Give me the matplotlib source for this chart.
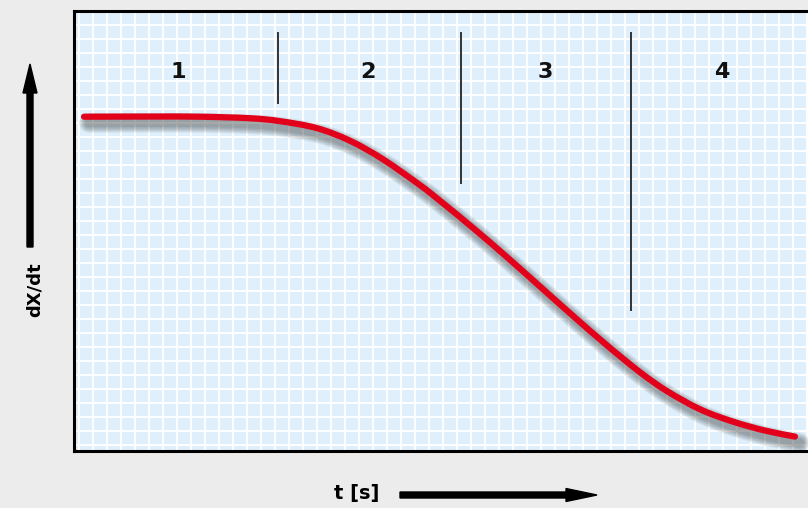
import matplotlib
matplotlib.use("Agg")
import matplotlib.pyplot as plt
import matplotlib.patheffects as pe
from matplotlib.patches import FancyArrow, PathPatch
from matplotlib.path import Path

# ---- data (grid units: one grid cell = 1) ----
t = [0.36, 5.07, 8.64, 12.21, 14.36, 17.0, 19.36, 21.71, 24.36, 25.79, 28.14,
     30.57, 32.93, 35.29, 37.71, 40.07, 42.0, 44.36, 46.71, 49.0, 51.14]
rate = [23.45, 23.46, 23.45, 23.34, 23.13, 22.63, 21.73, 20.41, 18.56, 17.44, 15.51,
        13.42, 11.32, 9.22, 7.12, 5.2, 3.85, 2.55, 1.67, 1.03, 0.6]

phase_labels = ["1", "2", "3", "4"]
phase_label_x = [7.07, 20.64, 33.29, 45.93]
phase_label_y = 26.64
boundary_x = [14.21, 27.29, 39.43]
boundary_top = 29.43
boundary_bottom = [24.43, 18.71, 9.64]

x_label = "t [s]"
y_label = "dX/dt"

W, H = 808, 508
fig = plt.figure(figsize=(W / 100, H / 100), dpi=100)
fig.patch.set_facecolor("#ececec")

left, right, top, bottom = 74, 812, 11, 451
ax = fig.add_axes([left / W, (H - bottom) / H, (right - left) / W, (bottom - top) / H])
ax.set_facecolor("#dff0fc")
ax.set_xlim(-0.357, 52.36)
ax.set_ylim(-0.43, 31)
ax.set_xticks(range(0, 53))
ax.set_yticks(range(0, 32))
ax.grid(True, color="white", linewidth=1.3)
ax.set_axisbelow(True)
ax.tick_params(length=0, labelbottom=False, labelleft=False)
for s in ax.spines.values():
    s.set_linewidth(2.2)
    s.set_color("black")

# smooth curve through the points (Catmull-Rom rendered as cubic Bezier)
verts = [(t[0], rate[0])]
codes = [Path.MOVETO]
n = len(t)
for i in range(n - 1):
    p0 = (t[max(i - 1, 0)], rate[max(i - 1, 0)])
    p1 = (t[i], rate[i])
    p2 = (t[i + 1], rate[i + 1])
    p3 = (t[min(i + 2, n - 1)], rate[min(i + 2, n - 1)])
    c1 = (p1[0] + (p2[0] - p0[0]) / 6, p1[1] + (p2[1] - p0[1]) / 6)
    c2 = (p2[0] - (p3[0] - p1[0]) / 6, p2[1] - (p3[1] - p1[1]) / 6)
    verts += [c1, c2, p2]
    codes += [Path.CURVE4] * 3
curve = Path(verts, codes)

shadow = [pe.SimpleLineShadow(offset=(3.5, -4.5), shadow_color="#202020", alpha=0.09, linewidth=lw)
          for lw in (14, 12, 10, 8, 6)]
patch = PathPatch(curve, facecolor="none", edgecolor="#e2001a", linewidth=4.5,
                  capstyle="round", joinstyle="round",
                  path_effects=shadow + [pe.Normal()], zorder=5)
ax.add_patch(patch)

for bx, bb in zip(boundary_x, boundary_bottom):
    ax.plot([bx, bx], [bb, boundary_top], color="#333333", linewidth=1.4, zorder=4)

for lab, lx in zip(phase_labels, phase_label_x):
    ax.text(lx, phase_label_y, lab, ha="center", va="center", fontsize=16,
            fontweight="bold", family="DejaVu Sans", color="#111111")

# axis labels and arrows outside axes (figure inches)
fig.text(35 / W, (H - 290) / H, y_label, rotation=90, ha="center", va="center",
         fontsize=13, fontweight="bold", family="DejaVu Sans")
fig.text(357 / W, (H - 494) / H, x_label, ha="center", va="center",
         fontsize=14, fontweight="bold", family=["Liberation Sans Narrow", "DejaVu Sans"])

fig.patches.append(FancyArrow(0.30, (H - 247) / 100, 0, (247 - 64) / 100, width=0.06,
                              head_width=0.14, head_length=0.29, length_includes_head=True,
                              color="black", transform=fig.dpi_scale_trans))
fig.patches.append(FancyArrow(4.00, (H - 495) / 100, 1.97, 0, width=0.06,
                              head_width=0.13, head_length=0.31, length_includes_head=True,
                              color="black", transform=fig.dpi_scale_trans))

fig.savefig("out.png", dpi=100, facecolor=fig.get_facecolor())
